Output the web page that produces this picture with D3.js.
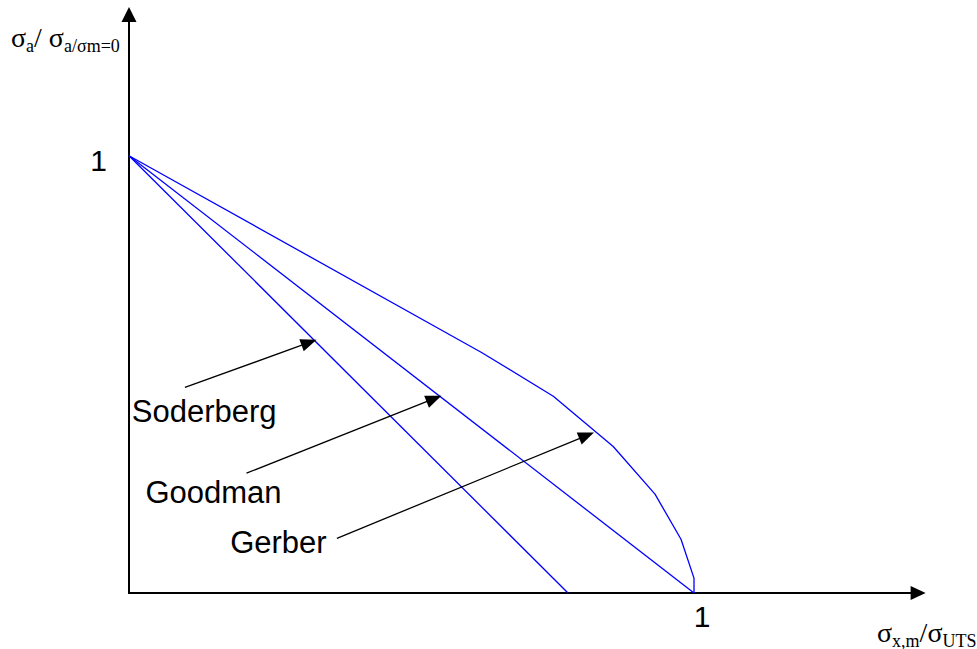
<!DOCTYPE html>
<html>
<head>
<meta charset="utf-8">
<script src="https://cdn.jsdelivr.net/npm/d3@7"></script>
<style>
  html, body { margin: 0; padding: 0; background: #fff; }
  svg { display: block; }
</style>
</head>
<body>
<svg id="chart" width="977" height="649"></svg>
<script>
// Fatigue criteria: normalised alternating stress vs normalised mean stress
const soderbergMean = [0, 0.777];
const soderbergAmp  = [1, 0];

const goodmanMean = [0, 1];
const goodmanAmp  = [1, 0];

const gerberMean = [0, 0.624, 0.751, 0.857, 0.931, 0.977, 1.0, 1.0];
const gerberAmp  = [1, 0.550, 0.450, 0.335, 0.226, 0.123, 0.034, 0];

const xTicks = [1];
const yTicks = [1];

// Callout labels, anchored in data units
const calloutNames = ["Soderberg", "Goodman", "Gerber"];
const calloutTextX = [0.005, 0.029, 0.179];
const calloutTextY = [0.392, 0.205, 0.091];
const calloutTailX = [0.099, 0.208, 0.368];
const calloutTailY = [0.470, 0.274, 0.125];
const calloutTipX  = [0.332, 0.553, 0.823];
const calloutTipY  = [0.579, 0.451, 0.367];

// Extent of the axis arrows beyond the unit range
const xAxisEnd = 1.41;
const yAxisEnd = 1.34;

const svg = d3.select("#chart");
const x = d3.scaleLinear().domain([0, 1]).range([129, 694]);
const y = d3.scaleLinear().domain([0, 1]).range([593, 155.7]);

const BLUE = "#0000ff";
const SANS = "'Liberation Sans', Arial, sans-serif";
const SERIF = "'Liberation Serif', 'Times New Roman', serif";

// Filled triangular arrow head at (tx,ty) pointing away from (fx,fy)
function arrowHead(g, fx, fy, tx, ty, len, half) {
  const a = Math.atan2(ty - fy, tx - fx);
  const bx = tx - len * Math.cos(a), by = ty - len * Math.sin(a);
  const nx = -Math.sin(a) * half, ny = Math.cos(a) * half;
  g.append("path")
    .attr("d", `M${tx},${ty}L${bx + nx},${by + ny}L${bx - nx},${by - ny}Z`)
    .attr("fill", "#000");
}

// Axes
const axes = svg.append("g");
axes.append("line")
  .attr("x1", x(0)).attr("y1", y(0)).attr("x2", x(0)).attr("y2", y(yAxisEnd) + 10)
  .attr("stroke", "#000").attr("stroke-width", 2);
arrowHead(axes, x(0), y(0), x(0), y(yAxisEnd), 15, 7.5);
axes.append("line")
  .attr("x1", x(0) - 1).attr("y1", y(0)).attr("x2", x(xAxisEnd) - 10).attr("y2", y(0))
  .attr("stroke", "#000").attr("stroke-width", 2);
arrowHead(axes, x(0), y(0), x(xAxisEnd), y(0), 15, 7);

// Tick labels
const yAxis = svg.append("g")
  .attr("transform", `translate(${x(0)},0)`)
  .call(d3.axisLeft(y).tickValues(yTicks).tickFormat(d3.format("d")).tickSize(0).tickPadding(22));
yAxis.select(".domain").remove();
yAxis.selectAll("text")
  .attr("dy", "0.5em")
  .style("font-family", SANS).style("font-size", "30px").attr("fill", "#000");

const xAxis = svg.append("g")
  .attr("transform", `translate(0,${y(0)})`)
  .call(d3.axisBottom(x).tickValues(xTicks).tickFormat(d3.format("d")).tickSize(0).tickPadding(13));
xAxis.select(".domain").remove();
xAxis.selectAll("text")
  .attr("dx", 7.5)
  .style("font-family", SANS).style("font-size", "30px").attr("fill", "#000");

// Criterion curves
const line = d3.line().x(d => x(d[0])).y(d => y(d[1]));
const curves = [
  d3.zip(soderbergMean, soderbergAmp),
  d3.zip(goodmanMean, goodmanAmp),
  d3.zip(gerberMean, gerberAmp)
];
svg.append("g").selectAll("path")
  .data(curves)
  .join("path")
  .attr("d", line)
  .attr("fill", "none")
  .attr("stroke", BLUE)
  .attr("stroke-width", 1.3)
  .attr("stroke-linejoin", "round");

// Callouts
const callouts = svg.append("g");
calloutNames.forEach((name, i) => {
  const fx = x(calloutTailX[i]), fy = y(calloutTailY[i]);
  const tx = x(calloutTipX[i]), ty = y(calloutTipY[i]);
  const a = Math.atan2(ty - fy, tx - fx);
  callouts.append("line")
    .attr("x1", fx).attr("y1", fy)
    .attr("x2", tx - 12 * Math.cos(a)).attr("y2", ty - 12 * Math.sin(a))
    .attr("stroke", "#000").attr("stroke-width", 1.3);
  arrowHead(callouts, fx, fy, tx, ty, 16, 6.5);
  callouts.append("text")
    .attr("x", x(calloutTextX[i])).attr("y", y(calloutTextY[i]))
    .style("font-family", SANS).style("font-size", "31px")
    .attr("fill", "#000")
    .text(name);
});

// Axis titles with subscripts
function title(xPos, yPos, parts) {
  const t = svg.append("text")
    .attr("x", xPos).attr("y", yPos)
    .style("font-family", SERIF).attr("fill", "#000");
  let shift = 0;
  parts.forEach(([txt, sub]) => {
    const dy = sub ? 5 - shift : -shift;
    shift += dy;
    t.append("tspan")
      .attr("dy", dy)
      .style("font-size", sub ? "18px" : "28px")
      .text(txt);
  });
  return t;
}
title(11, 46.5, [["σ", false], ["a", true], ["/ σ", false], ["a/σm=0", true]]);
title(877, 641.5, [["σ", false], ["x,m", true], ["/σ", false], ["UTS", true]]);
</script>
</body>
</html>
